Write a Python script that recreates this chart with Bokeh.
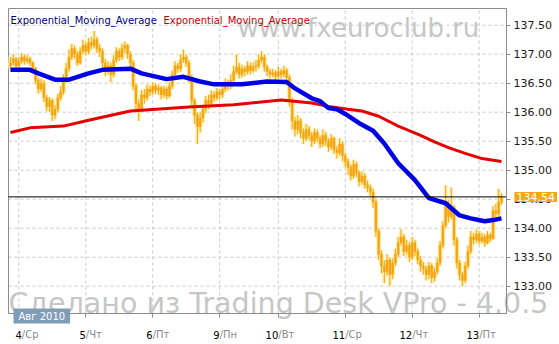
from bokeh.plotting import figure
from bokeh.models import Range1d, Label, FixedTicker, NumeralTickFormatter, ColumnDataSource
from bokeh.embed import file_html
from bokeh.resources import INLINE

# ---------------- data ----------------
first_open = 136.80
closes = [
    136.85, 136.92, 136.80, 136.88, 136.95, 136.88, 136.92, 136.85, 136.75, 136.55,
    136.40, 136.50, 136.25, 136.10, 136.20, 135.95, 136.05, 136.25, 136.35, 136.55,
    136.75, 136.95, 137.10, 137.00, 136.85, 137.05, 137.15, 137.05, 137.20, 137.15,
    137.25, 137.10, 137.05, 136.85, 136.70, 136.80, 136.65, 136.90, 137.05, 136.95,
    137.10, 137.15, 137.00, 136.85, 136.45, 136.15, 136.05, 136.30, 136.25, 136.40,
    136.35, 136.45, 136.38, 136.42, 136.30, 136.40, 136.28, 136.45, 136.65, 136.80,
    136.75, 136.90, 136.95, 136.85, 136.60, 136.20, 135.95, 135.75, 135.90, 136.05,
    136.20, 136.15, 136.30, 136.25, 136.35, 136.30, 136.40, 136.50, 136.45, 136.55,
    136.70, 136.78, 136.65, 136.75, 136.70, 136.80, 136.72, 136.78, 136.80, 136.90,
    136.95, 136.78, 136.70, 136.65, 136.68, 136.62, 136.70, 136.65, 136.72, 136.60,
    136.20, 135.85, 135.70, 135.85, 135.65, 135.55, 135.70, 135.60, 135.50, 135.65,
    135.55, 135.45, 135.60, 135.50, 135.40, 135.55, 135.35, 135.30, 135.45, 135.25,
    135.15, 135.05, 134.90, 135.10, 134.95, 134.80, 134.90, 134.75, 134.70, 134.62,
    134.45, 133.95, 133.55, 133.35, 133.25, 133.45, 133.20, 133.40, 133.55, 133.75,
    133.85, 133.60, 133.70, 133.50, 133.75, 133.60, 133.45, 133.35, 133.30, 133.20,
    133.35, 133.15, 133.25, 133.40, 133.70, 134.05, 134.40, 134.20, 134.35, 133.80,
    133.40, 133.20, 133.10, 133.35, 133.60, 133.85, 133.80, 133.90, 133.78, 133.85,
    133.75, 133.88, 133.82, 134.30, 134.25, 134.45, 134.54,
]
highs = [
    136.95, 137.00, 136.95, 136.95, 137.02, 137.00, 136.98, 136.96, 136.88, 136.78,
    136.60, 136.58, 136.55, 136.30, 136.26, 136.24, 136.12, 136.32, 136.45, 136.65,
    136.85, 137.08, 137.18, 137.15, 137.05, 137.12, 137.25, 137.20, 137.28, 137.30,
    137.40, 137.30, 137.18, 137.10, 136.92, 136.88, 136.85, 136.98, 137.12, 137.10,
    137.18, 137.22, 137.18, 137.05, 136.90, 136.50, 136.22, 136.38, 136.40, 136.48,
    136.46, 136.52, 136.50, 136.48, 136.45, 136.46, 136.44, 136.52, 136.72, 136.88,
    136.85, 137.00, 137.08, 137.00, 136.90, 136.65, 136.25, 136.00, 136.00, 136.12,
    136.28, 136.30, 136.38, 136.36, 136.42, 136.40, 136.48, 136.58, 136.56, 136.65,
    136.80, 137.00, 136.85, 136.82, 136.80, 136.88, 136.85, 136.86, 136.90, 137.00,
    137.05, 137.00, 136.82, 136.75, 136.75, 136.72, 136.78, 136.75, 136.80, 136.76,
    136.65, 136.25, 135.92, 135.95, 135.90, 135.72, 135.80, 135.76, 135.66, 135.72,
    135.70, 135.60, 135.70, 135.66, 135.55, 135.62, 135.58, 135.42, 135.55, 135.50,
    135.30, 135.20, 135.10, 135.18, 135.15, 135.00, 134.98, 134.95, 134.82, 134.75,
    134.68, 134.50, 134.00, 133.62, 133.45, 133.55, 133.50, 133.48, 133.65, 133.85,
    133.98, 133.90, 133.80, 133.76, 133.85, 133.80, 133.65, 133.52, 133.42, 133.36,
    133.42, 133.40, 133.32, 133.48, 133.78, 134.12, 134.74, 134.48, 134.70, 134.40,
    133.85, 133.46, 133.25, 133.42, 133.70, 133.95, 133.92, 133.98, 133.95, 133.92,
    133.90, 133.95, 133.92, 134.38, 134.42, 134.68, 134.60,
]
lows = [
    136.75, 136.80, 136.75, 136.76, 136.84, 136.82, 136.84, 136.80, 136.68, 136.48,
    136.32, 136.35, 136.18, 136.02, 136.00, 135.85, 135.88, 136.00, 136.20, 136.30,
    136.50, 136.70, 136.90, 136.92, 136.80, 136.82, 137.00, 136.98, 137.00, 137.08,
    137.10, 137.02, 136.95, 136.78, 136.62, 136.65, 136.52, 136.60, 136.85, 136.88,
    136.90, 137.02, 136.92, 136.78, 136.38, 136.05, 135.85, 136.00, 136.15, 136.20,
    136.28, 136.30, 136.32, 136.30, 136.22, 136.25, 136.22, 136.25, 136.40, 136.60,
    136.68, 136.70, 136.85, 136.78, 136.50, 136.10, 135.80, 135.45, 135.65, 135.82,
    135.98, 136.05, 136.10, 136.18, 136.20, 136.22, 136.25, 136.35, 136.38, 136.40,
    136.50, 136.65, 136.58, 136.60, 136.62, 136.65, 136.65, 136.68, 136.70, 136.75,
    136.85, 136.70, 136.62, 136.58, 136.60, 136.55, 136.58, 136.58, 136.60, 136.52,
    136.10, 135.70, 135.58, 135.62, 135.55, 135.45, 135.50, 135.52, 135.40, 135.45,
    135.48, 135.38, 135.40, 135.42, 135.32, 135.35, 135.28, 135.20, 135.25, 135.15,
    135.05, 134.92, 134.82, 134.85, 134.88, 134.72, 134.75, 134.68, 134.62, 134.55,
    134.35, 133.85, 133.45, 133.22, 133.05, 133.18, 133.00, 133.12, 133.35, 133.50,
    133.70, 133.52, 133.55, 133.42, 133.45, 133.52, 133.38, 133.25, 133.20, 133.10,
    133.12, 133.05, 133.08, 133.20, 133.35, 133.65, 134.00, 134.10, 134.15, 133.70,
    133.30, 133.10, 133.00, 133.05, 133.30, 133.55, 133.72, 133.75, 133.72, 133.74,
    133.68, 133.72, 133.76, 133.80, 134.18, 134.20, 134.40,
]

# Exponential moving averages (bar index, value)
ema_fast_bar = [0, 7, 10, 16, 21, 28, 33, 43, 47, 56, 62, 68, 73, 83, 92, 99, 102,
                108, 111, 114, 117, 120, 125, 130, 134, 139, 145, 150, 156, 161,
                165, 170, 173, 176]
ema_fast_val = [136.73, 136.73, 136.67, 136.56, 136.56, 136.67, 136.73, 136.75, 136.67,
                136.57, 136.61, 136.53, 136.48, 136.48, 136.53, 136.52, 136.41, 136.24,
                136.19, 136.07, 136.05, 135.97, 135.81, 135.68, 135.46, 135.12, 134.83,
                134.52, 134.43, 134.22, 134.17, 134.12, 134.14, 134.17]
ema_slow_bar = [0, 7, 19, 28, 43, 64, 80, 97, 108, 114, 121, 126, 132, 139, 147,
                152, 157, 163, 169, 176]
ema_slow_val = [135.65, 135.73, 135.76, 135.86, 136.02, 136.09, 136.13, 136.21, 136.16,
                136.10, 136.05, 136.02, 135.93, 135.76, 135.60, 135.49, 135.39, 135.29,
                135.20, 135.15]

day_ticks = [3, 27, 51, 75, 96, 120, 144, 168]
day_nums = ["4", "5", "6", "9", "10", "11", "12", "13"]
day_names = ["Ср", "Чт", "Пт", "Пн", "Вт", "Ср", "Чт", "Пт"]
price_ticks = [133.0, 133.5, 134.0, 134.5, 135.0, 135.5, 136.0, 136.5, 137.0, 137.5]
last_price = 134.54
month_text = "Авг 2010"
legend_text = "Exponential_Moving_Average"
site_text = "www.fxeuroclub.ru"
made_text = "Сделано из Trading Desk VPro - 4.0.5"

# ---------------- layout (pixels) ----------------
W, H = 559, 344
PL, PT, PR, PB = 8, 8, 506, 313          # visible plot box on the canvas
BAR_PX = 2.79                            # pixels per bar
VAL_PX = 58.0                            # pixels per price unit
REF_X, REF_B = 18.3, day_ticks[0]        # pixel of first day tick
REF_Y, REF_V = 285.7, price_ticks[0]     # pixel of lowest price tick

def px2bar(px):
    return REF_B + (px - REF_X) / BAR_PX

def py2val(py):
    return REF_V + (REF_Y - py) / VAL_PX

def sx(px):          # screen x inside the (full-canvas) frame
    return px

def sy(py):          # screen y measured from the bottom
    return H - py

x_lo, x_hi = px2bar(PL), px2bar(PR)
y_lo, y_hi = py2val(PB), py2val(PT)

# ---------------- build ----------------
bars = list(range(len(closes)))
opens = [first_open] + closes[:-1]
src = ColumnDataSource(dict(
    x=bars, o=opens, c=closes, h=highs, l=lows,
    top=[max(a, b) for a, b in zip(opens, closes)],
    bot=[min(a, b) for a, b in zip(opens, closes)],
))

p = figure(width=W, height=H, output_backend="svg", toolbar_location=None,
           x_range=Range1d(px2bar(0), px2bar(W)), y_range=Range1d(py2val(H), py2val(0)),
           y_axis_location="right",
           min_border=0, min_border_left=0, min_border_right=0,
           min_border_top=0, min_border_bottom=0,
           background_fill_color="white", border_fill_color="white",
           outline_line_color=None)
p.xgrid.visible = False
p.ygrid.visible = False

# watermarks (beneath everything)
p.add_layout(Label(x=sx(237), y=sy(27), x_units="screen", y_units="screen",
                   text=site_text, text_font="DejaVu Sans", text_font_size="26px",
                   text_baseline="alphabetic", text_color="#c6c6c6", level="image"))
p.add_layout(Label(x=sx(8), y=sy(303), x_units="screen", y_units="screen",
                   text=made_text, text_font="DejaVu Sans", text_font_size="28.5px",
                   text_baseline="alphabetic", text_color="#c6c6c6", level="image"))

# grid lines inside the plot box
grid_kw = dict(line_color="#c8c8c8", line_dash="3 3", line_width=1)
p.segment(x0=day_ticks, y0=[y_lo] * len(day_ticks), x1=day_ticks, y1=[y_hi] * len(day_ticks), **grid_kw)
p.segment(x0=[x_lo] * len(price_ticks), y0=price_ticks, x1=[x_hi] * len(price_ticks), y1=price_ticks, **grid_kw)

# plot box border
p.quad(left=[x_lo], right=[x_hi], bottom=[y_lo], top=[y_hi],
       fill_color=None, line_color="#8c8c8c", line_width=1)

# axes fixed at the plot box edges
xa = p.xaxis[0]
xa.fixed_location = y_lo
xa.bounds = (x_lo, x_hi)
xa.ticker = FixedTicker(ticks=day_ticks)
xa.major_label_text_color = None
xa.axis_line_color = "#8c8c8c"
xa.major_tick_line_color = "#8c8c8c"
xa.major_tick_out = 4
xa.major_tick_in = 0
xa.minor_tick_line_color = None

ya = p.yaxis[0]
ya.fixed_location = x_hi
ya.bounds = (y_lo, y_hi)
ya.ticker = FixedTicker(ticks=price_ticks)
ya.formatter = NumeralTickFormatter(format="0.00")
ya.axis_line_color = "#8c8c8c"
ya.major_tick_line_color = "#8c8c8c"
ya.major_tick_out = 4
ya.major_tick_in = 0
ya.minor_tick_line_color = None
ya.major_label_standoff = 3
ya.major_label_text_font = "DejaVu Sans"
ya.major_label_text_font_size = "11px"
ya.major_label_text_color = "#1a1a1a"

# candles: glow then body
orange = "#f5a30f"
glow = "#fff0b0"
p.segment(x0="x", y0="l", x1="x", y1="h", source=src, line_color=glow, line_width=4)
p.vbar(x="x", top="top", bottom="bot", width=1.0, source=src,
       fill_color=glow, line_color=glow, line_width=2)
p.segment(x0="x", y0="l", x1="x", y1="h", source=src, line_color=orange, line_width=1)
p.vbar(x="x", top="top", bottom="bot", width=0.7, source=src,
       fill_color=orange, line_color=orange, line_width=0.5)

# moving averages
p.line(ema_slow_bar, ema_slow_val, line_color="#e60000", line_width=3)
p.line(ema_fast_bar, ema_fast_val, line_color="#0000e6", line_width=4.5)

# last price line across the plot box
p.segment(x0=[x_lo], y0=[last_price], x1=[x_hi], y1=[last_price],
          line_color="black", line_width=1)

# legend texts
p.add_layout(Label(x=sx(10), y=sy(20), x_units="screen", y_units="screen",
                   text=legend_text, text_font="DejaVu Sans", text_font_size="10px",
                   text_baseline="alphabetic", text_color="#000080"))
p.add_layout(Label(x=sx(163), y=sy(20), x_units="screen", y_units="screen",
                   text=legend_text, text_font="DejaVu Sans", text_font_size="10px",
                   text_baseline="alphabetic", text_color="#c00000"))

# day labels under the axis: number in black, weekday in grey
for i, (t, n, d) in enumerate(zip(day_ticks, day_nums, day_names)):
    off = 3 if i == 0 else 0
    p.add_layout(Label(x=t, y=sy(334), x_units="data", y_units="screen", x_offset=off,
                       text=n, text_align="right", text_baseline="alphabetic",
                       text_font="DejaVu Sans", text_font_size="10px", text_color="#000000"))
    p.add_layout(Label(x=t, y=sy(334), x_units="data", y_units="screen", x_offset=off,
                       text="/" + d, text_align="left", text_baseline="alphabetic",
                       text_font="DejaVu Sans", text_font_size="10px", text_color="#8a8a8a"))

# month box
p.add_layout(Label(x=sx(13), y=sy(315.5), x_units="screen", y_units="screen",
                   text=month_text, text_baseline="middle",
                   text_font="DejaVu Sans", text_font_size="10px",
                   text_color="white", background_fill_color="#7f9db7",
                   padding=(5, 2)))

# last price tag
p.add_layout(Label(x=sx(514), y=last_price, x_units="screen", y_units="data",
                   text=f"{last_price:.2f}", text_baseline="middle",
                   text_font="DejaVu Sans", text_font_size="11px",
                   text_color="white", background_fill_color="#f5a80f",
                   padding=(2, 1)))

open("out.html", "w").write(file_html(p, INLINE))
